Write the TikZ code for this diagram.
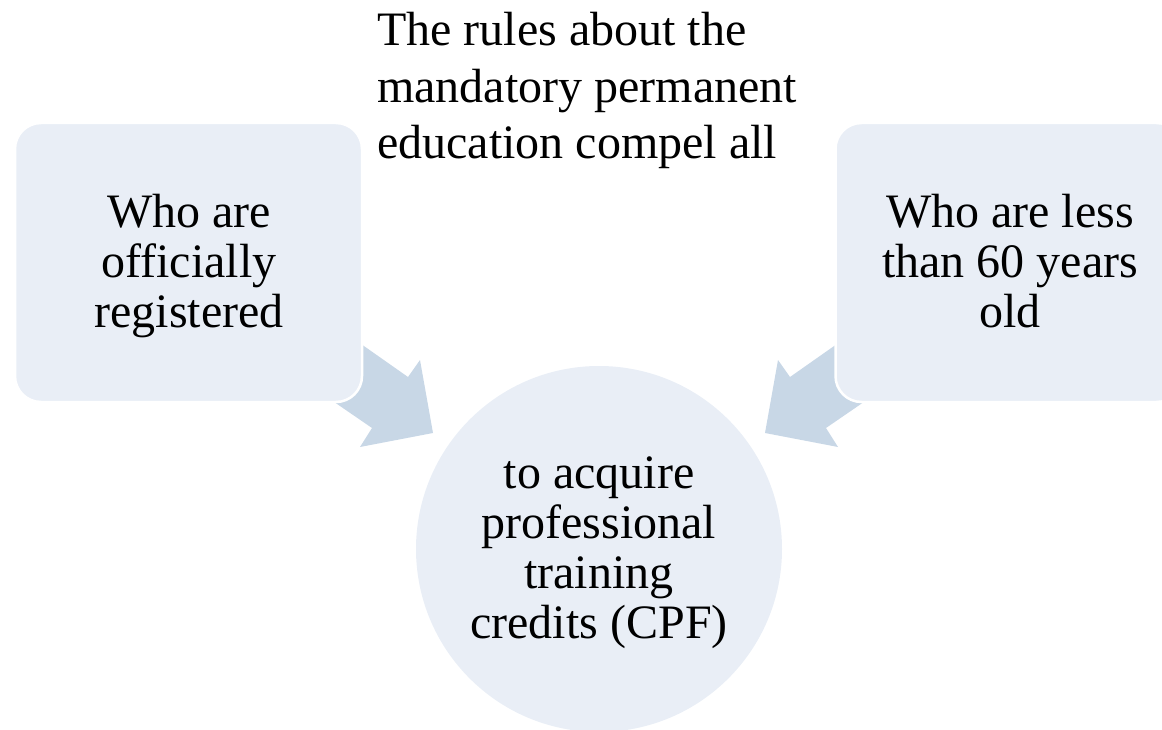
\documentclass[tikz,border=0pt]{standalone}
\usepackage{fontspec}
\setmainfont{Liberation Serif}
\definecolor{boxfill}{HTML}{E9EEF6}
\definecolor{arrowfill}{HTML}{C8D7E6}
\begin{document}
\begin{tikzpicture}[x=1pt,y=-1pt,
  lbl/.style={font=\fontsize{48}{50}\selectfont, align=center, inner sep=0pt, text=black},
  toplbl/.style={font=\fontsize{48}{56.5}\selectfont, align=left, inner sep=0pt, text=black},
  boxshape/.style={draw=white, line width=2.5pt, fill=boxfill, rounded corners=26pt,
    minimum width=347pt, minimum height=279pt, inner sep=0pt},
  goalshape/.style={circle, fill=boxfill, minimum size=366pt, inner sep=0pt},
  blockarrow/.style={fill=arrowfill}]
\useasboundingbox (0,0) rectangle (1162,730);
\clip (0,0) rectangle (1162,730);
% block arrows (tails hidden under the boxes)
\fill[blockarrow] (334,325) -- (408,377) -- (420,360) -- (433,433) -- (360,447) -- (372,428) -- (305,382) -- cycle;
\fill[blockarrow] (864,325) -- (790,377) -- (778,360) -- (765,433) -- (838,447) -- (826,428) -- (893,382) -- cycle;
% shapes
\node[boxshape] (leftbox) at (188.5,262.5) {};
\node[boxshape] (rightbox) at (1009,262.5) {};
\node[goalshape] (goal) at (599,549) {};
% texts
\node[toplbl, anchor=north west] (intro) at (377,12) {The rules about the\\mandatory permanent\\education compel all};
\node[lbl, anchor=north] (lefttext) at (189,194) {Who are\\officially\\registered};
\node[lbl, anchor=north] (righttext) at (1010,194) {Who are less\\than 60 years\\old};
\node[lbl, anchor=north] (goaltext) at (599,457) {to acquire\\professional\\training\\credits (CPF)};
\end{tikzpicture}
\end{document}
